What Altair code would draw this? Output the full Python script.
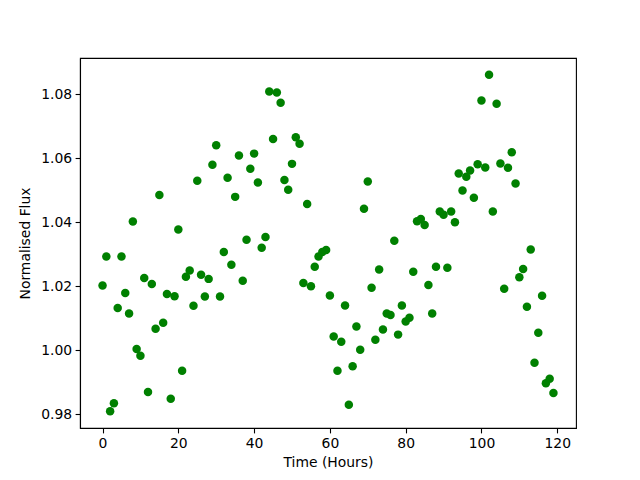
import altair as alt
import pandas as pd

hours = list(range(120))
flux = [
    1.0202, 1.0293, 0.9810, 0.9835, 1.0132, 1.0293, 1.0179, 1.0115, 1.0402, 1.0004,
    0.9983, 1.0226, 0.9870, 1.0207, 1.0067, 1.0485, 1.0086, 1.0176, 0.9849, 1.0169,
    1.0377, 0.9936, 1.0230, 1.0249, 1.0139, 1.0529, 1.0236, 1.0168, 1.0223, 1.0579,
    1.0640, 1.0168, 1.0307, 1.0539, 1.0267, 1.0479, 1.0608, 1.0217, 1.0345, 1.0567,
    1.0614, 1.0524, 1.0320, 1.0354, 1.0808, 1.0660, 1.0805, 1.0773, 1.0532, 1.0501,
    1.0582, 1.0665, 1.0645, 1.0210, 1.0457, 1.0200, 1.0261, 1.0293, 1.0307, 1.0313,
    1.0171, 1.0043, 0.9936, 1.0027, 1.0140, 0.9830, 0.9950, 1.0074, 1.0002, 1.0442,
    1.0527, 1.0195, 1.0033, 1.0252, 1.0065, 1.0115, 1.0110, 1.0342, 1.0049, 1.0140,
    1.0090, 1.0102, 1.0245, 1.0403, 1.0410, 1.0391, 1.0204, 1.0115, 1.0261, 1.0433,
    1.0423, 1.0258, 1.0433, 1.0400, 1.0552, 1.0499, 1.0542, 1.0561, 1.0476, 1.0581,
    1.0780, 1.0571, 1.0860, 1.0433, 1.0770, 1.0583, 1.0192, 1.0570, 1.0618, 1.0521,
    1.0228, 1.0254, 1.0136, 1.0315, 0.9961, 1.0055, 1.0170, 0.9897, 0.9911, 0.9867,
]
x_ticks = [0, 20, 40, 60, 80, 100, 120]
y_ticks = [0.98, 1.00, 1.02, 1.04, 1.06, 1.08]

df = pd.DataFrame({"Time": hours, "Flux": flux})

xmin, xmax = min(hours), max(hours)
xm = 0.05 * (xmax - xmin)
ymin, ymax = min(flux), max(flux)
ym = 0.05 * (ymax - ymin)

chart = alt.Chart(df).mark_circle(size=72, color="#008000", opacity=1).encode(
    x=alt.X("Time:Q", title="Time (Hours)",
            scale=alt.Scale(domain=[xmin - xm, xmax + xm], nice=False, zero=False),
            axis=alt.Axis(values=x_ticks, format="d")),
    y=alt.Y("Flux:Q", title="Normalised Flux",
            scale=alt.Scale(domain=[ymin - ym, ymax + ym], nice=False, zero=False),
            axis=alt.Axis(values=y_ticks, format=".2f")),
).properties(
    width=496, height=370,
    padding={"left": 72, "top": 50, "right": 56, "bottom": 45},
    autosize="none",
).configure_view(
    stroke="black", strokeWidth=1.1
).configure_axis(
    grid=False,
    domainColor="black", domainWidth=1.1,
    tickColor="black", tickWidth=1.1, tickSize=4.9,
    labelFont="DejaVu Sans", labelFontSize=13.9, labelColor="black", labelPadding=3.5,
    titleFont="DejaVu Sans", titleFontSize=13.9, titleColor="black",
    titleFontWeight="normal",
).configure_axisX(
    titlePadding=5,
).configure_axisY(
    titlePadding=8,
)

chart.save("out.html", embed_options={"renderer": "svg", "actions": False})
